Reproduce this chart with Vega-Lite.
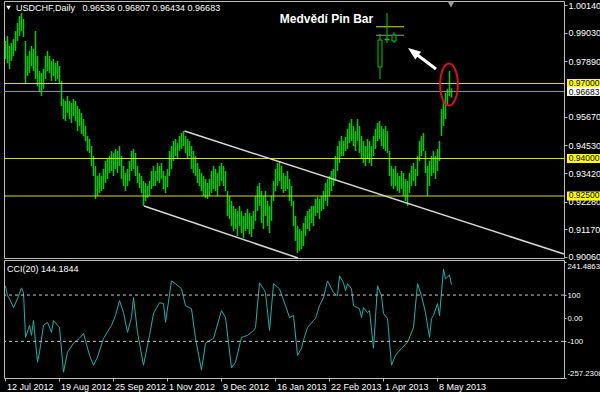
{
"$schema":"https://vega.github.io/schema/vega-lite/v6.json",
"background":"#000000",
"padding":{"left":3,"top":0,"right":0,"bottom":0},
"spacing":2,
"bounds":"flush",
"config":{
 "view":{"stroke":"#bdbdbd","strokeWidth":1},
 "axis":{"labelFont":"Liberation Sans","labelFontSize":9,"labelColor":"#ffffff","tickColor":"#bdbdbd","domain":false,"grid":false,"labelOverlap":false},
 "text":{"font":"Liberation Sans","fontSize":9,"color":"#ffffff"}
},
"datasets":{
 "one":[{}],
 "levels":[{"p":0.97,"lab":"0.97000","k":"lvl"},{"p":0.96683,"lab":"0.96683","k":"bid"},{"p":0.94,"lab":"0.94000","k":"lvl"},{"p":0.925,"lab":"0.92500","k":"lvl"}],
 "bars":[
{"i":0,"h":0.987,"l":0.9798},{"i":1,"h":0.989,"l":0.9782},{"i":2,"h":0.985,"l":0.9758},{"i":3,"h":0.9862,"l":0.979},{"i":4,"h":0.9878,"l":0.981},{"i":5,"h":0.991,"l":0.983},{"i":6,"h":0.9942,"l":0.987},{"i":7,"h":0.997,"l":0.989},{"i":8,"h":0.9982,"l":0.991},{"i":9,"h":0.9958,"l":0.9886},
{"i":10,"h":0.987,"l":0.9702},{"i":11,"h":0.981,"l":0.973},{"i":12,"h":0.983,"l":0.9742},{"i":13,"h":0.985,"l":0.977},{"i":14,"h":0.9838,"l":0.975},{"i":15,"h":0.991,"l":0.9718},{"i":16,"h":0.981,"l":0.969},{"i":17,"h":0.975,"l":0.967},{"i":18,"h":0.9742,"l":0.965},{"i":19,"h":0.9758,"l":0.9678},
{"i":20,"h":0.981,"l":0.9718},{"i":21,"h":0.983,"l":0.975},{"i":22,"h":0.981,"l":0.9742},{"i":23,"h":0.979,"l":0.971},{"i":24,"h":0.9798,"l":0.973},{"i":25,"h":0.9782,"l":0.971},{"i":26,"h":0.979,"l":0.9718},{"i":27,"h":0.977,"l":0.9702},{"i":28,"h":0.971,"l":0.961},{"i":29,"h":0.9638,"l":0.9558},
{"i":30,"h":0.963,"l":0.955},{"i":31,"h":0.965,"l":0.9582},{"i":32,"h":0.963,"l":0.9558},{"i":33,"h":0.9622,"l":0.9542},{"i":34,"h":0.9638,"l":0.957},{"i":35,"h":0.963,"l":0.955},{"i":36,"h":0.961,"l":0.951},{"i":37,"h":0.9598,"l":0.953},{"i":38,"h":0.9582,"l":0.9498},{"i":39,"h":0.9558,"l":0.949},
{"i":40,"h":0.953,"l":0.947},{"i":41,"h":0.949,"l":0.943},{"i":42,"h":0.9478,"l":0.9422},{"i":43,"h":0.945,"l":0.937},{"i":44,"h":0.941,"l":0.933},{"i":45,"h":0.937,"l":0.9238},{"i":46,"h":0.933,"l":0.925},{"i":47,"h":0.9342,"l":0.9262},{"i":48,"h":0.933,"l":0.927},{"i":49,"h":0.9358,"l":0.9278},
{"i":50,"h":0.939,"l":0.9302},{"i":51,"h":0.9398,"l":0.9318},{"i":52,"h":0.941,"l":0.9342},{"i":53,"h":0.943,"l":0.935},{"i":54,"h":0.9422,"l":0.933},{"i":55,"h":0.9438,"l":0.9358},{"i":56,"h":0.943,"l":0.9342},{"i":57,"h":0.945,"l":0.937},{"i":58,"h":0.941,"l":0.9318},{"i":59,"h":0.937,"l":0.929},
{"i":60,"h":0.9342,"l":0.927},{"i":61,"h":0.9358,"l":0.929},{"i":62,"h":0.939,"l":0.931},{"i":63,"h":0.943,"l":0.935},{"i":64,"h":0.9438,"l":0.9358},{"i":65,"h":0.9422,"l":0.933},{"i":66,"h":0.937,"l":0.9302},{"i":67,"h":0.9342,"l":0.9282},{"i":68,"h":0.933,"l":0.9262},{"i":69,"h":0.931,"l":0.921},
{"i":70,"h":0.9302,"l":0.923},{"i":71,"h":0.929,"l":0.9242},{"i":72,"h":0.931,"l":0.925},{"i":73,"h":0.935,"l":0.9278},{"i":74,"h":0.937,"l":0.929},{"i":75,"h":0.935,"l":0.929},{"i":76,"h":0.9382,"l":0.931},{"i":77,"h":0.937,"l":0.9302},{"i":78,"h":0.9382,"l":0.9318},{"i":79,"h":0.935,"l":0.9278},
{"i":80,"h":0.933,"l":0.9262},{"i":81,"h":0.9358,"l":0.9286},{"i":82,"h":0.943,"l":0.933},{"i":83,"h":0.945,"l":0.9358},{"i":84,"h":0.947,"l":0.939},{"i":85,"h":0.9478,"l":0.941},{"i":86,"h":0.9462,"l":0.9398},{"i":87,"h":0.949,"l":0.943},{"i":88,"h":0.9502,"l":0.9438},{"i":89,"h":0.951,"l":0.945},
{"i":90,"h":0.949,"l":0.9422},{"i":91,"h":0.9478,"l":0.9398},{"i":92,"h":0.947,"l":0.941},{"i":93,"h":0.945,"l":0.9358},{"i":94,"h":0.943,"l":0.9342},{"i":95,"h":0.941,"l":0.933},{"i":96,"h":0.9382,"l":0.9302},{"i":97,"h":0.9358,"l":0.929},{"i":98,"h":0.9342,"l":0.927},{"i":99,"h":0.933,"l":0.925},
{"i":100,"h":0.9318,"l":0.9242},{"i":101,"h":0.9302,"l":0.9238},{"i":102,"h":0.9318,"l":0.925},{"i":103,"h":0.935,"l":0.9262},{"i":104,"h":0.937,"l":0.9278},{"i":105,"h":0.9358,"l":0.927},{"i":106,"h":0.9342,"l":0.925},{"i":107,"h":0.937,"l":0.929},{"i":108,"h":0.9382,"l":0.931},{"i":109,"h":0.937,"l":0.929},
{"i":110,"h":0.935,"l":0.927},{"i":111,"h":0.927,"l":0.917},{"i":112,"h":0.925,"l":0.9158},{"i":113,"h":0.923,"l":0.913},{"i":114,"h":0.921,"l":0.911},{"i":115,"h":0.9198,"l":0.9118},{"i":116,"h":0.919,"l":0.909},{"i":117,"h":0.921,"l":0.913},{"i":118,"h":0.919,"l":0.9102},{"i":119,"h":0.917,"l":0.9082},
{"i":120,"h":0.9182,"l":0.911},{"i":121,"h":0.9198,"l":0.9118},{"i":122,"h":0.9182,"l":0.9098},{"i":123,"h":0.917,"l":0.9086},{"i":124,"h":0.919,"l":0.9118},{"i":125,"h":0.925,"l":0.915},{"i":126,"h":0.929,"l":0.919},{"i":127,"h":0.9302,"l":0.921},{"i":128,"h":0.927,"l":0.9142},{"i":129,"h":0.925,"l":0.9118},
{"i":130,"h":0.927,"l":0.917},{"i":131,"h":0.923,"l":0.913},{"i":132,"h":0.921,"l":0.9102},{"i":133,"h":0.925,"l":0.915},{"i":134,"h":0.931,"l":0.923},{"i":135,"h":0.9358,"l":0.927},{"i":136,"h":0.9382,"l":0.929},{"i":137,"h":0.939,"l":0.931},{"i":138,"h":0.937,"l":0.9278},{"i":139,"h":0.9342,"l":0.9262},
{"i":140,"h":0.933,"l":0.927},{"i":141,"h":0.935,"l":0.9278},{"i":142,"h":0.9318,"l":0.923},{"i":143,"h":0.929,"l":0.921},{"i":144,"h":0.923,"l":0.913},{"i":145,"h":0.917,"l":0.907},{"i":146,"h":0.913,"l":0.9022},{"i":147,"h":0.9118,"l":0.903},{"i":148,"h":0.911,"l":0.9038},{"i":149,"h":0.9142,"l":0.905},
{"i":150,"h":0.917,"l":0.909},{"i":151,"h":0.919,"l":0.9118},{"i":152,"h":0.9198,"l":0.911},{"i":153,"h":0.921,"l":0.9142},{"i":154,"h":0.921,"l":0.913},{"i":155,"h":0.9238,"l":0.917},{"i":156,"h":0.9246,"l":0.9182},{"i":157,"h":0.9238,"l":0.9158},{"i":158,"h":0.925,"l":0.919},{"i":159,"h":0.927,"l":0.9198},
{"i":160,"h":0.9302,"l":0.923},{"i":161,"h":0.9318,"l":0.921},{"i":162,"h":0.933,"l":0.925},{"i":163,"h":0.935,"l":0.927},{"i":164,"h":0.9358,"l":0.929},{"i":165,"h":0.941,"l":0.931},{"i":166,"h":0.945,"l":0.935},{"i":167,"h":0.947,"l":0.9382},{"i":168,"h":0.949,"l":0.941},{"i":169,"h":0.947,"l":0.941},
{"i":170,"h":0.9486,"l":0.943},{"i":171,"h":0.9518,"l":0.9438},{"i":172,"h":0.9542,"l":0.9462},{"i":173,"h":0.9558,"l":0.947},{"i":174,"h":0.953,"l":0.945},{"i":175,"h":0.951,"l":0.943},{"i":176,"h":0.9558,"l":0.947},{"i":177,"h":0.953,"l":0.9422},{"i":178,"h":0.949,"l":0.9398},{"i":179,"h":0.947,"l":0.9382},
{"i":180,"h":0.945,"l":0.937},{"i":181,"h":0.9478,"l":0.9398},{"i":182,"h":0.947,"l":0.9382},{"i":183,"h":0.945,"l":0.937},{"i":184,"h":0.949,"l":0.941},{"i":185,"h":0.9518,"l":0.9438},{"i":186,"h":0.9542,"l":0.947},{"i":187,"h":0.955,"l":0.9478},{"i":188,"h":0.953,"l":0.945},{"i":189,"h":0.9518,"l":0.9438},
{"i":190,"h":0.953,"l":0.943},{"i":191,"h":0.951,"l":0.9422},{"i":192,"h":0.943,"l":0.933},{"i":193,"h":0.937,"l":0.929},{"i":194,"h":0.9358,"l":0.9278},{"i":195,"h":0.937,"l":0.929},{"i":196,"h":0.9342,"l":0.927},{"i":197,"h":0.933,"l":0.9262},{"i":198,"h":0.935,"l":0.9278},{"i":199,"h":0.9342,"l":0.925},
{"i":200,"h":0.9318,"l":0.923},{"i":201,"h":0.931,"l":0.921},{"i":202,"h":0.9342,"l":0.9262},{"i":203,"h":0.937,"l":0.929},{"i":204,"h":0.9382,"l":0.931},{"i":205,"h":0.9358,"l":0.929},{"i":206,"h":0.941,"l":0.933},{"i":207,"h":0.947,"l":0.939},{"i":208,"h":0.949,"l":0.941},{"i":209,"h":0.9502,"l":0.943},
{"i":210,"h":0.943,"l":0.9342},{"i":211,"h":0.937,"l":0.925},{"i":212,"h":0.939,"l":0.929},{"i":213,"h":0.941,"l":0.933},{"i":214,"h":0.943,"l":0.9342},{"i":215,"h":0.941,"l":0.9318},{"i":216,"h":0.9438,"l":0.935},{"i":217,"h":0.947,"l":0.939},{"i":218,"h":0.9598,"l":0.949},{"i":219,"h":0.963,"l":0.953},
{"i":220,"h":0.9662,"l":0.9558},{"i":221,"h":0.9678,"l":0.961},{"i":222,"h":0.975,"l":0.965},{"i":223,"h":0.96807,"l":0.96434}
 ],
 "cci":[{"i":0,"v":140},{"i":1,"v":97},{"i":2,"v":84},{"i":4,"v":46},{"i":6,"v":84},{"i":8,"v":131},{"i":9,"v":110},{"i":10,"v":-83},{"i":12,"v":-31},{"i":13,"v":-74},{"i":14,"v":-10},{"i":16,"v":-190},{"i":17,"v":-147},{"i":19,"v":-31},{"i":21,"v":-18},{"i":23,"v":-61},{"i":24,"v":-10},{"i":27,"v":-40},{"i":29,"v":-233},{"i":31,"v":-147},{"i":34,"v":-108},{"i":37,"v":-87},{"i":39,"v":-66},{"i":42,"v":-160},{"i":44,"v":-203},{"i":46,"v":-168},{"i":49,"v":-87},{"i":53,"v":-31},{"i":55,"v":12},{"i":57,"v":76},{"i":59,"v":24},{"i":61,"v":-61},{"i":63,"v":3},{"i":64,"v":89},{"i":66,"v":-61},{"i":69,"v":-203},{"i":72,"v":-74},{"i":74,"v":20},{"i":77,"v":67},{"i":79,"v":63},{"i":80,"v":-18},{"i":83,"v":161},{"i":85,"v":149},{"i":88,"v":127},{"i":90,"v":54},{"i":93,"v":41},{"i":95,"v":-87},{"i":98,"v":-224},{"i":100,"v":-108},{"i":104,"v":-87},{"i":108,"v":33},{"i":110,"v":3},{"i":113,"v":-215},{"i":115,"v":-190},{"i":118,"v":-83},{"i":121,"v":-74},{"i":124,"v":-53},{"i":125,"v":-40},{"i":127,"v":153},{"i":129,"v":127},{"i":130,"v":110},{"i":132,"v":-53},{"i":134,"v":149},{"i":137,"v":127},{"i":140,"v":54},{"i":142,"v":3},{"i":144,"v":12},{"i":146,"v":-160},{"i":148,"v":-130},{"i":149,"v":-95},{"i":151,"v":-40},{"i":154,"v":-10},{"i":155,"v":-1},{"i":157,"v":54},{"i":159,"v":89},{"i":161,"v":161},{"i":164,"v":110},{"i":166,"v":97},{"i":167,"v":183},{"i":169,"v":153},{"i":170,"v":119},{"i":171,"v":149},{"i":173,"v":127},{"i":174,"v":54},{"i":177,"v":41},{"i":178,"v":3},{"i":179,"v":46},{"i":181,"v":24},{"i":182,"v":33},{"i":184,"v":-130},{"i":185,"v":3},{"i":186,"v":140},{"i":188,"v":97},{"i":189,"v":20},{"i":191,"v":-1},{"i":193,"v":-203},{"i":195,"v":-160},{"i":198,"v":-130},{"i":201,"v":-104},{"i":204,"v":-40},{"i":206,"v":149},{"i":208,"v":97},{"i":210,"v":24},{"i":212,"v":-83},{"i":213,"v":-1},{"i":214,"v":12},{"i":216,"v":63},{"i":217,"v":12},{"i":219,"v":212},{"i":220,"v":170},{"i":222,"v":187},{"i":223,"v":144.1844}]
},
"vconcat":[
 {
  "width":560,"height":257,
  "layer":[
   {"data":{"name":"bars"},"mark":{"type":"rule","strokeWidth":1.5,"color":"#00d000"},
    "encoding":{"x":{"field":"i","type":"quantitative","scale":{"domain":[-0.75,279.25],"nice":false,"zero":false},"axis":null},
     "y":{"field":"l","type":"quantitative","scale":{"domain":[0.9002,1.003],"nice":false,"zero":false},
      "axis":{"orient":"right","title":null,"values":[0.9006,0.9117,0.9228,0.9342,0.9453,0.9567,0.9789,0.9903,1.0014],"tickCount":30,"format":".5f","tickSize":3,"labelPadding":1,"labelFlush":6,"labelFlushOffset":4,"labelOverlap":false}},
     "y2":{"field":"h"}}},
   {"data":{"name":"levels"},"mark":{"type":"rule","strokeWidth":1},
    "encoding":{"y":{"field":"p","type":"quantitative"},
     "color":{"condition":{"test":"datum.k=='bid'","value":"#8c9aab"},"value":"#dede00"}}},
   {"data":{"name":"one"},"mark":{"type":"rule","color":"#d8d8d8","strokeWidth":1.5},
    "encoding":{"x":{"datum":89.5},"y":{"datum":0.951},"x2":{"datum":279.25},"y2":{"datum":0.9018}}},
   {"data":{"name":"one"},"mark":{"type":"rule","color":"#d8d8d8","strokeWidth":1.5},
    "encoding":{"x":{"datum":69.25},"y":{"datum":0.921},"x2":{"datum":146.25},"y2":{"datum":0.9002}}},
   {"data":{"name":"one"},"mark":{"type":"rule","color":"#dede00","strokeWidth":1},
    "encoding":{"x":{"datum":185.25},"x2":{"datum":199.25},"y":{"datum":0.9927}}},
   {"data":{"name":"one"},"mark":{"type":"rule","color":"#8c9aab","strokeWidth":1},
    "encoding":{"x":{"datum":185.25},"x2":{"datum":199.25},"y":{"datum":0.9893}}},
   {"data":{"name":"one"},"mark":{"type":"rule","color":"#00d000","strokeWidth":1},
    "encoding":{"x":{"datum":187.25},"y":{"datum":0.9898},"y2":{"datum":0.9718}}},
   {"data":{"name":"one"},"mark":{"type":"rect","fill":"#000000","stroke":"#00d000","strokeWidth":1},
    "encoding":{"x":{"datum":186.25},"x2":{"datum":188.25},"y":{"datum":0.9874},"y2":{"datum":0.9766}}},
   {"data":{"name":"one"},"mark":{"type":"rule","color":"#00d000","strokeWidth":1},
    "encoding":{"x":{"datum":190.75},"y":{"datum":0.9982},"y2":{"datum":0.9862}}},
   {"data":{"name":"one"},"mark":{"type":"rule","color":"#00d000","strokeWidth":1.5},
    "encoding":{"x":{"datum":189.5},"x2":{"datum":192},"y":{"datum":0.9876}}},
   {"data":{"name":"one"},"mark":{"type":"rule","color":"#00d000","strokeWidth":1},
    "encoding":{"x":{"datum":194.25},"y":{"datum":0.9906},"y2":{"datum":0.9862}}},
   {"data":{"name":"one"},"mark":{"type":"rect","fill":"#000000","stroke":"#00d000","strokeWidth":1},
    "encoding":{"x":{"datum":193.25},"x2":{"datum":195.25},"y":{"datum":0.9894},"y2":{"datum":0.987}}},
   {"data":{"name":"one"},"mark":{"type":"text","text":"Medvědí Pin Bar","font":"Liberation Sans","fontWeight":"bold","fontSize":12,"color":"#ffffff","align":"center","baseline":"middle"},
    "encoding":{"x":{"datum":160.5},"y":{"datum":0.996}}},
   {"data":{"name":"one"},"mark":{"type":"rule","color":"#ffffff","strokeWidth":3},
    "encoding":{"x":{"datum":215.25},"y":{"datum":0.9758},"x2":{"datum":204.6},"y2":{"datum":0.9822}}},
   {"data":{"name":"one"},"mark":{"type":"point","shape":"M0,-1L0.6,0.6L-0.6,0.6Z","size":256,"angle":307,"filled":true,"color":"#ffffff","opacity":1},
    "encoding":{"x":{"datum":204.45},"y":{"datum":0.98228}}},
   {"data":{"name":"one"},"mark":{"type":"point","shape":"M0,-1A0.42,1,0,1,1,0,1A0.42,1,0,1,1,0,-1Z","size":1764,"filled":false,"stroke":"#e01010","strokeWidth":2,"opacity":1},
    "encoding":{"x":{"datum":221.75},"y":{"datum":0.9696}}},
   {"data":{"name":"one"},"mark":{"type":"point","shape":"triangle-down","size":45,"filled":true,"color":"#9a9a9a","opacity":1},
    "encoding":{"x":{"datum":222.75},"y":{"datum":1.0016}}},
   {"data":{"name":"one"},"mark":{"type":"point","shape":"triangle-down","size":22,"filled":true,"color":"#ffffff","opacity":1},
    "encoding":{"x":{"datum":1.5},"y":{"datum":1.0003}}},
   {"data":{"name":"one"},"mark":{"type":"text","text":"USDCHF,Daily\u00a0\u00a0 0.96536 0.96807 0.96434 0.96683","align":"left","baseline":"middle"},
    "encoding":{"x":{"datum":5.25},"y":{"datum":1.0002}}},
   {"data":{"name":"levels"},"mark":{"type":"point","shape":"M-1,-0.27H1V0.27H-1Z","size":1089,"filled":true,"opacity":1,"strokeWidth":0},
    "encoding":{"x":{"datum":289},"y":{"field":"p","type":"quantitative"},
     "color":{"condition":{"test":"datum.k=='bid'","value":"#ffffff"},"value":"#ffff00"}}},
   {"data":{"name":"levels"},"transform":[{"filter":"datum.k=='lvl'"}],"mark":{"type":"text","align":"left","baseline":"middle","color":"#000000","fontSize":8.5,"dy":-0.6},
    "encoding":{"x":{"datum":281.6},"y":{"field":"p","type":"quantitative"},"text":{"field":"lab"}}},
   {"data":{"name":"levels"},"transform":[{"filter":"datum.k=='bid'"}],"mark":{"type":"text","align":"left","baseline":"middle","color":"#000000","fontSize":8.5,"dy":0.8},
    "encoding":{"x":{"datum":281.6},"y":{"field":"p","type":"quantitative"},"text":{"field":"lab"}}}
  ]
 },
 {
  "width":560,"height":118,
  "layer":[
   {"data":{"name":"cci"},"mark":{"type":"line","color":"#20b2aa","strokeWidth":1},
    "encoding":{"x":{"field":"i","type":"quantitative","scale":{"domain":[-0.75,279.25],"nice":false,"zero":false},
      "axis":{"orient":"bottom","title":null,"values":[-0.5,26.5,53.5,80.5,107.5,134.5,161.5,188.5,215.5],"tickCount":30,"labelExpr":"['12 Jul 2012','19 Aug 2012','25 Sep 2012','1 Nov 2012','9 Dec 2012','16 Jan 2013','22 Feb 2013','1 Apr 2013','8 May 2013'][round((datum.value+0.5)/27)]","labelAlign":"left","labelFlush":false,"labelOverlap":false,"tickSize":3,"labelPadding":1,"labelOffset":2}},
     "y":{"field":"v","type":"quantitative","scale":{"domain":[-258.2,251.4],"nice":false,"zero":false},
      "axis":{"orient":"right","title":null,"values":[-257.2308,-100,0,100,241.4863],"tickCount":30,"labelExpr":"datum.value == 0 ? '0.00' : '' + datum.value","labelFontSize":7.8,"tickSize":2,"labelPadding":1,"labelFlush":12,"labelOverlap":false}}}},
   {"data":{"name":"one"},"mark":{"type":"rule","color":"#c8c8c8","strokeDash":[3,3],"strokeWidth":1},
    "encoding":{"y":{"datum":100}}},
   {"data":{"name":"one"},"mark":{"type":"rule","color":"#c8c8c8","strokeDash":[3,3],"strokeWidth":1},
    "encoding":{"y":{"datum":-100}}},
   {"data":{"name":"one"},"mark":{"type":"text","text":"CCI(20) 144.1844","align":"left","baseline":"middle"},
    "encoding":{"x":{"datum":0.75},"y":{"datum":212}}}
  ]
 }
]
}
